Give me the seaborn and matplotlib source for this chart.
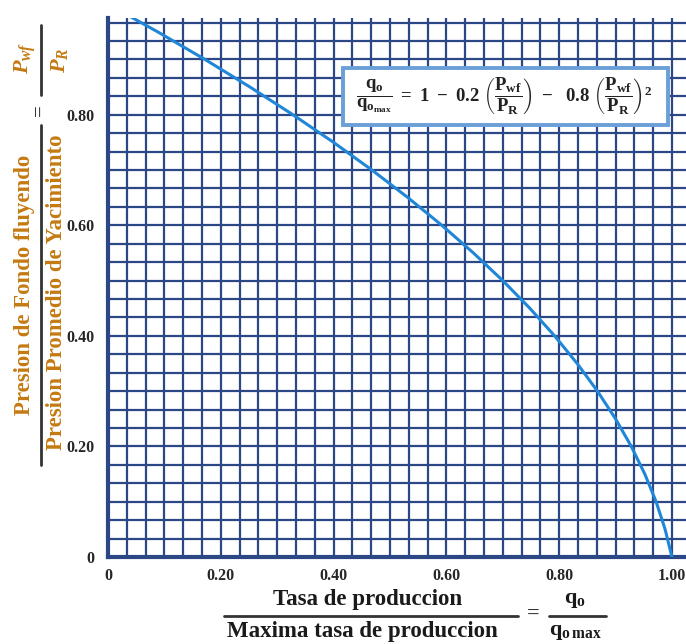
import numpy as np
import pandas as pd
import matplotlib
matplotlib.use("Agg")
import matplotlib.pyplot as plt
import matplotlib.ticker as mticker
from matplotlib.patches import Rectangle
import seaborn as sns

# ── datos (curva IPR de Vogel) ───────────────────────────────
pwf_pr = [1.00, 0.95, 0.90, 0.85, 0.80, 0.75, 0.70, 0.65, 0.60, 0.55, 0.50,
          0.45, 0.40, 0.35, 0.30, 0.25, 0.20, 0.15, 0.10, 0.05, 0.00]
qo_qmax = [0.000, 0.088, 0.172, 0.252, 0.328, 0.400, 0.468, 0.532, 0.592,
           0.648, 0.700, 0.748, 0.792, 0.832, 0.868, 0.900, 0.928, 0.952,
           0.972, 0.988, 1.000]
x_ticks = [0.0, 0.2, 0.4, 0.6, 0.8, 1.0]
x_tick_labels = ["0", "0.20", "0.40", "0.60", "0.80", "1.00"]
y_ticks = [0.0, 0.2, 0.4, 0.6, 0.8]
y_tick_labels = ["0", "0.20", "0.40", "0.60", "0.80"]

GRID = "#2B4785"
CURVE = "#1F86D8"
LABEL_ORANGE = "#C47A12"
LBL_SIZE = 16.5

sns.set_theme(style="white")
plt.rcParams["font.family"] = ["Liberation Serif", "DejaVu Serif"]
plt.rcParams["mathtext.fontset"] = "custom"
plt.rcParams["mathtext.rm"] = "Liberation Serif:bold"
plt.rcParams["mathtext.bf"] = "Liberation Serif:bold"
plt.rcParams["mathtext.it"] = "Liberation Serif:bold:italic"

df = pd.DataFrame({"qo": qo_qmax, "pwf": pwf_pr})

fig = plt.figure(figsize=(6.86, 6.44), dpi=100)
ax = fig.add_axes([108 / 686, 1 - 557 / 644, 1 - 108 / 686, (557 - 18) / 644])

sns.lineplot(data=df, x="qo", y="pwf", sort=False, color=CURVE,
             linewidth=2.2, ax=ax, zorder=4)

ax.set_xlim(0, 1.025)
ax.set_ylim(0, 0.975)
ax.xaxis.set_minor_locator(mticker.MultipleLocator(1 / 30))
ax.yaxis.set_minor_locator(mticker.MultipleLocator(1 / 30))
ax.set_xticks(x_ticks)
ax.set_xticklabels(x_tick_labels)
ax.set_yticks(y_ticks)
ax.set_yticklabels(y_tick_labels)
ax.grid(True, which="both", color=GRID, linewidth=1.6, zorder=1)
ax.set_axisbelow(True)
ax.tick_params(which="both", length=0)
ax.tick_params(axis="x", pad=8, labelsize=11.5)
ax.tick_params(axis="y", pad=10, labelsize=11.5)
for lab in ax.get_xticklabels() + ax.get_yticklabels():
    lab.set_fontweight("bold")
ax.set_xlabel("")
ax.set_ylabel("")
for side in ["left", "bottom"]:
    ax.spines[side].set_color(GRID)
    ax.spines[side].set_linewidth(3)
ax.spines["top"].set_visible(False)
ax.spines["right"].set_visible(False)

# ecuación de Vogel en recuadro
ax.add_patch(Rectangle((0.417, 0.781), 0.576, 0.104, facecolor="white",
                       edgecolor="#6A9FD8", linewidth=2.8, zorder=5))
eq = (r"$\dfrac{\mathrm{q_o}}{\mathrm{q_{o_{max}}}}\ =\ 1\ -\ 0.2\ "
      r"\left(\dfrac{\mathrm{P_{wf}}}{\mathrm{P_R}}\right)\ -\ \ 0.8\ "
      r"\left(\dfrac{\mathrm{P_{wf}}}{\mathrm{P_R}}\right)^2$")
ax.text(0.703, 0.833, eq, fontsize=13.5, color="#222222", va="center",
        ha="center", zorder=6)

# etiqueta eje y (fracción vertical)
fig.text(25 / 686, 1 - 285 / 644, "Presion de Fondo fluyendo", rotation=90,
         ha="center", va="center", fontsize=LBL_SIZE, fontweight="bold",
         color=LABEL_ORANGE)
fig.text(57 / 686, 1 - 292 / 644, "Presion Promedio de Yacimiento", rotation=90,
         ha="center", va="center", fontsize=LBL_SIZE, fontweight="bold",
         color=LABEL_ORANGE)
fig.add_artist(plt.Line2D([41 / 686, 41 / 686], [1 - 465 / 644, 1 - 125 / 644],
                          color="#333333", linewidth=2))
fig.text(40 / 686, 1 - 110 / 644, "=", rotation=90, ha="center", va="center",
         fontsize=15, fontweight="bold", color="#333333")
fig.text(25 / 686, 1 - 58 / 644, r"$\mathit{P_{wf}}$", rotation=90,
         ha="center", va="center", fontsize=16, color=LABEL_ORANGE)
fig.text(60 / 686, 1 - 60 / 644, r"$\mathit{P_{R}}$", rotation=90,
         ha="center", va="center", fontsize=16, color=LABEL_ORANGE)
fig.add_artist(plt.Line2D([41 / 686, 41 / 686], [1 - 95 / 644, 1 - 25 / 644],
                          color="#333333", linewidth=2))

# etiqueta eje x (fracción horizontal)
fig.text(368 / 686, 1 - 600 / 644, "Tasa de produccion", ha="center",
         va="center", fontsize=LBL_SIZE, fontweight="bold", color="#1A1A1A")
fig.text(362 / 686, 1 - 631 / 644, "Maxima tasa de produccion", ha="center",
         va="center", fontsize=LBL_SIZE, fontweight="bold", color="#1A1A1A")
fig.add_artist(plt.Line2D([224 / 686, 518 / 686], [1 - 616 / 644, 1 - 616 / 644],
                          color="#333333", linewidth=2))
fig.text(533 / 686, 1 - 614 / 644, "=", ha="center", va="center",
         fontsize=16, fontweight="bold", color="#333333")
fig.text(575 / 686, 1 - 600 / 644, r"$\mathrm{q_o}$", ha="center",
         va="center", fontsize=16, color="#1A1A1A")
fig.text(575 / 686, 1 - 632 / 644, r"$\mathrm{q_{o\,max}}$", ha="center",
         va="center", fontsize=16, color="#1A1A1A")
fig.add_artist(plt.Line2D([549 / 686, 606 / 686], [1 - 616 / 644, 1 - 616 / 644],
                          color="#333333", linewidth=2))

fig.savefig("out.png", dpi=100, facecolor="white")
